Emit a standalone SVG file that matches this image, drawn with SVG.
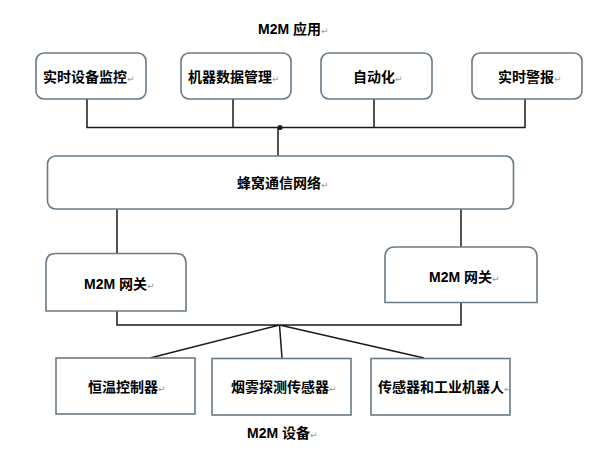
<svg xmlns="http://www.w3.org/2000/svg" width="616" height="460" viewBox="0 0 616 460">
<style>
.box{fill:#fff;stroke:#6a7a86;stroke-width:1.6}
.t{font-family:"Liberation Sans","Noto Sans CJK SC",sans-serif;font-size:14px;font-weight:bold;fill:#000}
.r{font-family:"DejaVu Sans",sans-serif;font-size:9px;font-weight:normal;fill:#9a9a9a}
.ln{fill:none;stroke:#1a1a1a;stroke-width:1.5}
</style>
<rect width="616" height="460" fill="#fff"/>
<text class="t" x="258" y="34">M2M 应用<tspan class="r">↵</tspan></text>
<text class="t" x="247" y="438">M2M 设备<tspan class="r">↵</tspan></text>
<g id="connectors">
<path class="ln" d="M87,99 V127.5 H525 V99 M233,99 V127.5 M374,99 V127.5 M278,127.5 V156"/>
<circle cx="280" cy="127.5" r="2.6" fill="#1a1a1a"/>
<path class="ln" d="M117,209 V253.5 M461,209 V247"/>
<path class="ln" d="M117,311 V325 H461 V303 M279.5,325 L150,358 M279.5,325 L282,358 M279.5,325 L424,358"/>
</g>
<g id="app1"><rect class="box" x="36" y="53" width="110" height="46" rx="8"/><text class="t" x="43" y="82">实时设备监控<tspan class="r">↵</tspan></text></g>
<g id="app2"><rect class="box" x="181" y="53" width="110" height="46" rx="8"/><text class="t" x="188" y="82">机器数据管理<tspan class="r">↵</tspan></text></g>
<g id="app3"><rect class="box" x="321" y="53" width="111" height="46" rx="8"/><text class="t" x="353" y="82">自动化<tspan class="r">↵</tspan></text></g>
<g id="app4"><rect class="box" x="472" y="53" width="110" height="46" rx="8"/><text class="t" x="498" y="82">实时警报<tspan class="r">↵</tspan></text></g>
<g id="network"><rect class="box" x="47.5" y="156" width="466" height="53" rx="8"/><text class="t" x="237" y="188">蜂窝通信网络<tspan class="r">↵</tspan></text></g>
<g id="gw1"><path class="box" d="M46,311 V263.5 Q46,253.5 56,253.5 H176 Q186,253.5 186,263.5 V311 Z"/><text class="t" x="84" y="289">M2M 网关<tspan class="r">↵</tspan></text></g>
<g id="gw2"><path class="box" d="M385,302.5 V257 Q385,247 395,247 H527 Q537,247 537,257 V302.5 Z"/><text class="t" x="429" y="281.5">M2M 网关<tspan class="r">↵</tspan></text></g>
<g id="dev1"><rect class="box" x="56" y="358" width="139" height="56"/><text class="t" x="88" y="392">恒温控制器<tspan class="r">↵</tspan></text></g>
<g id="dev2"><rect class="box" x="212" y="358.5" width="139" height="56.5"/><text class="t" x="231" y="392">烟雾探测传感器<tspan class="r">↵</tspan></text></g>
<g id="dev3"><rect class="box" x="371" y="358.5" width="139" height="56.5"/><text class="t" x="378" y="392">传感器和工业机器人<tspan class="r">↵</tspan></text></g>
</svg>
